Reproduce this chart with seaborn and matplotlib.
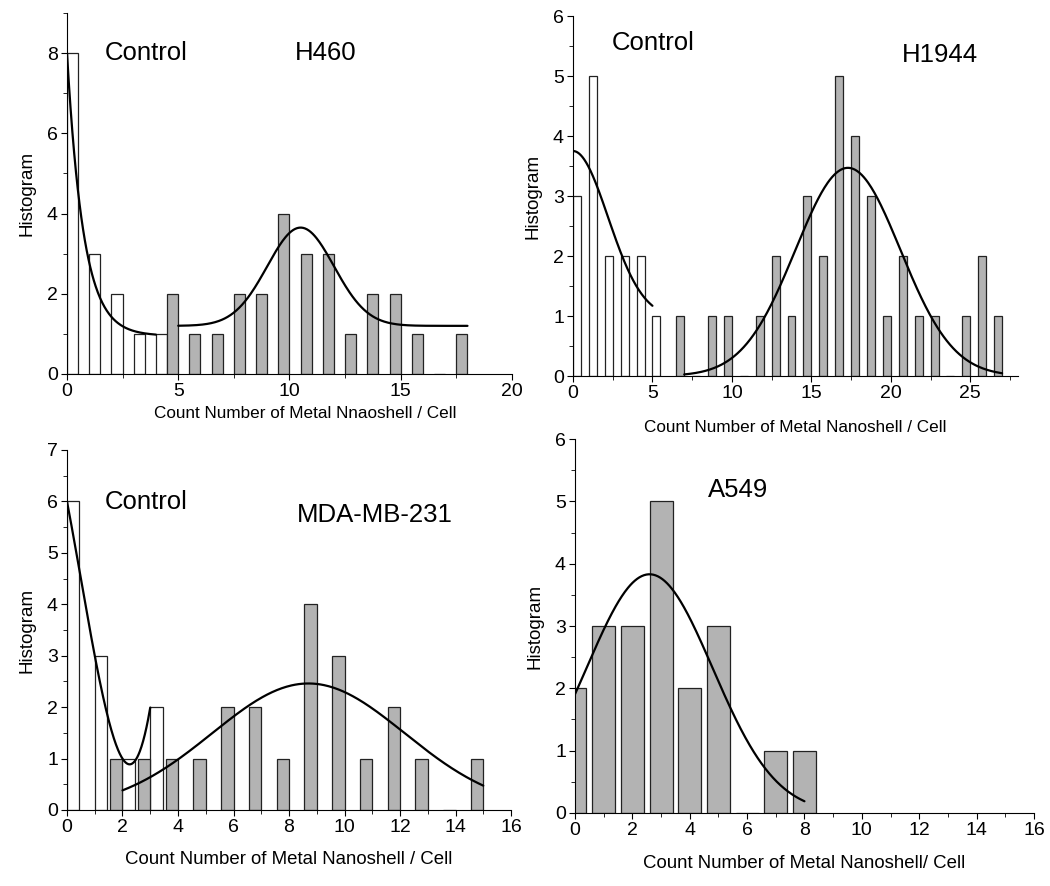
import numpy as np
import seaborn as sns
import matplotlib.pyplot as plt
from matplotlib.ticker import MultipleLocator

sns.set_style("ticks")
plt.rcParams['font.family'] = ['Liberation Sans', 'DejaVu Sans']
plt.rcParams['xtick.major.size'] = 4.5
plt.rcParams['ytick.major.size'] = 4.5
plt.rcParams['xtick.minor.size'] = 3
plt.rcParams['ytick.minor.size'] = 3
for k in ['text.color', 'axes.labelcolor', 'xtick.color', 'ytick.color', 'axes.edgecolor']:
    plt.rcParams[k] = 'black'

## data (counts per cell)

# H460
h460_ctrl_x = [0, 1, 2, 3, 4]
h460_ctrl_n = [8, 3, 2, 1, 1]
h460_x = [5, 6, 7, 8, 9, 10, 11, 12, 13, 14, 15, 16, 17, 18]
h460_n = [2, 1, 1, 2, 2, 4, 3, 3, 1, 2, 2, 1, 0, 1]
h460_ctrl_fit = [0.95, 7.05, 0.74]        # y0, A, decay
h460_fit = [1.2, 2.45, 10.5, 1.5]         # y0, A, xc, w

# H1944
h1944_ctrl_x = [0, 1, 2, 3, 4, 5]
h1944_ctrl_n = [3, 5, 2, 2, 2, 1]
h1944_x = [7, 8, 9, 10, 11, 12, 13, 14, 15, 16, 17, 18, 19, 20, 21, 22, 23, 24, 25, 26, 27]
h1944_n = [1, 0, 1, 1, 0, 1, 2, 1, 3, 2, 5, 4, 3, 1, 2, 1, 1, 0, 1, 2, 1]
h1944_ctrl_fit = [0.96, 2.79, 0.0, 2.2]
h1944_fit = [0.0, 3.47, 17.3, 3.3]

# MDA-MB-231
mda_ctrl_x = [0, 1, 2, 3]
mda_ctrl_n = [6, 3, 1, 2]
mda_x = [2, 3, 4, 5, 6, 7, 8, 9, 10, 11, 12, 13, 14, 15]
mda_n = [1, 1, 1, 1, 2, 2, 1, 4, 3, 1, 2, 1, 0, 1]
mda_ctrl_poly = [6.0, -2.833, -0.5, 0.333]
mda_fit = [0.0, 2.46, 8.7, 3.47]

# A549
a549_x = [0, 1, 2, 3, 4, 5, 6, 7, 8]
a549_n = [2, 3, 3, 5, 2, 3, 0, 1, 1]
a549_fit = [0.0, 3.83, 2.6, 2.2]

GRAY = '#b3b3b3'


def gauss(x, p):
    y0, a, xc, w = p
    return y0 + a * np.exp(-(x - xc) ** 2 / (2 * w ** 2))


def bars(ax, x, n, color, shrink, offset):
    sns.histplot(x=np.array(x) + offset, weights=n, discrete=True, shrink=shrink,
                 color=color, edgecolor='#222222', linewidth=0.9, alpha=1, ax=ax)


def curve(ax, x, y):
    sns.lineplot(x=x, y=y, color='black', linewidth=1.6, ax=ax)


def style(ax, xmax, ymax, xmaj, xmin, ymaj, ymin, xlabel, labelpad, xlsize=12.3):
    ax.set_xlim(0, xmax)
    ax.set_ylim(0, ymax)
    ax.xaxis.set_major_locator(MultipleLocator(xmaj))
    ax.xaxis.set_minor_locator(MultipleLocator(xmin))
    ax.yaxis.set_major_locator(MultipleLocator(ymaj))
    ax.yaxis.set_minor_locator(MultipleLocator(ymin))
    ax.tick_params(labelsize=14, pad=2)
    ax.set_xlabel(xlabel, fontsize=xlsize, labelpad=labelpad)
    ax.set_ylabel('Histogram', fontsize=13.5, labelpad=8)
    sns.despine(ax=ax)


fig = plt.figure(figsize=(10.5, 8.86), dpi=100)

# H460
ax1 = fig.add_axes([0.0638, 0.5779, 0.4238, 0.4074])
bars(ax1, h460_ctrl_x, h460_ctrl_n, 'white', 0.5, 0.25)
bars(ax1, h460_x, h460_n, GRAY, 0.5, -0.25)
xs = np.linspace(0, 4, 200)
y0, a, t = h460_ctrl_fit
curve(ax1, xs, y0 + a * np.exp(-xs / t))
xs = np.linspace(5, 18, 300)
curve(ax1, xs, gauss(xs, h460_fit))
style(ax1, 20, 9, 5, 2.5, 2, 1, 'Count Number of Metal Nnaoshell / Cell', 6)
ax1.xaxis.set_label_coords(0.535, -0.088)
ax1.text(1.7, 8, 'Control', fontsize=18.5, va='center')
ax1.text(10.25, 8, 'H460', fontsize=18.5, va='center')

# H1944
ax2 = fig.add_axes([0.5457, 0.5756, 0.4238, 0.4063])
bars(ax2, h1944_ctrl_x, h1944_ctrl_n, 'white', 0.5, 0.25)
bars(ax2, h1944_x, h1944_n, GRAY, 0.5, -0.25)
xs = np.linspace(0, 5, 200)
curve(ax2, xs, gauss(xs, h1944_ctrl_fit))
xs = np.linspace(7, 27, 300)
curve(ax2, xs, gauss(xs, h1944_fit))
style(ax2, 28, 6, 5, 2.5, 1, 0.5, 'Count Number of Metal Nanoshell / Cell', 13)
ax2.text(2.46, 5.55, 'Control', fontsize=18.5, va='center')
ax2.text(20.7, 5.35, 'H1944', fontsize=18.5, va='center')

# MDA-MB-231
ax3 = fig.add_axes([0.0638, 0.0858, 0.4229, 0.4063])
bars(ax3, mda_ctrl_x, mda_ctrl_n, 'white', 0.45, 0.225)
bars(ax3, mda_x, mda_n, GRAY, 0.45, -0.225)
xs = np.linspace(0, 3, 200)
curve(ax3, xs, np.polyval(mda_ctrl_poly[::-1], xs))
xs = np.linspace(2, 15, 300)
curve(ax3, xs, gauss(xs, mda_fit))
style(ax3, 16, 7, 2, 1, 1, 0.5, 'Count Number of Metal Nanoshell / Cell', 10.5, 13.4)
ax3.text(1.37, 5.98, 'Control', fontsize=18.5, va='center')
ax3.text(8.27, 5.73, 'MDA-MB-231', fontsize=18.5, va='center')

# A549
ax4 = fig.add_axes([0.5476, 0.0824, 0.4371, 0.4221])
bars(ax4, a549_x, a549_n, GRAY, 0.8, 0.0)
xs = np.linspace(0, 8, 300)
curve(ax4, xs, gauss(xs, a549_fit))
style(ax4, 16, 6, 2, 1, 1, 0.5, 'Count Number of Metal Nanoshell/ Cell', 11.5, 13.4)
ax4.text(4.63, 5.18, 'A549', fontsize=18.5, va='center')

fig.savefig('out.png', dpi=100)
